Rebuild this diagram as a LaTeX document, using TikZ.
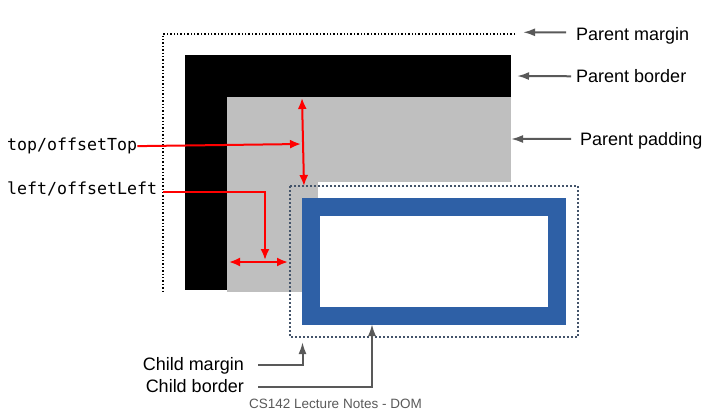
\documentclass[tikz,border=0pt]{standalone}
\usepackage{fontspec}
\setmainfont{Liberation Sans}
\newfontfamily\codefont{DejaVu Sans Mono}
\usetikzlibrary{arrows.meta, positioning}
\definecolor{childblue}{RGB}{46,96,166}
\definecolor{marginnavy}{RGB}{68,84,106}
\definecolor{padgray}{RGB}{191,191,191}
\definecolor{notegray}{RGB}{89,89,89}
\tikzstyle{gline} = [draw, notegray, line width=2pt, -{Latex[length=12pt,width=8pt]}]
\tikzstyle{rline} = [draw, red, line width=2pt, -{Latex[length=11pt,width=9pt]}]

\begin{document}
\begin{tikzpicture}[x=1pt,y=-1pt,
 lbl/.style={font=\fontsize{18}{20}\selectfont,inner sep=0,anchor=base west},
 code/.style={font=\codefont\fontsize{16.6}{18}\selectfont,inner sep=0,anchor=base west}]
 \useasboundingbox (0,0) rectangle (708,416);
 % parent
 \fill[black] (185,55) rectangle (511,290);
 \fill[padgray] (227,97) rectangle (511,292);
 \fill[white] (318,182) rectangle (511,292);
 \draw[black, line width=1.4pt, dash pattern=on 1.4pt off 2pt] (515,34) -- (163,34) -- (163,292);
 % child
 \draw[marginnavy, line width=2pt, dash pattern=on 2pt off 2pt] (290,186) rectangle (578,337);
 \draw[childblue, line width=18pt] (311,207) rectangle (557,315.5);

 \node[lbl] (pm) at (576,40.7) {Parent margin};
 \node[lbl] (pb) at (576,82.7) {Parent border};
 \node[lbl] (pp) at (580,145) {Parent padding};
 \node[code] (ot) at (7,150.7) {top/offsetTop};
 \node[code] (ol) at (7,194) {left/offsetLeft};
 \node[lbl, anchor=base east] (cm) at (244,370) {Child margin};
 \node[lbl, anchor=base east] (cb) at (244,392) {Child border};
 \node[font=\fontsize{13.5}{15}\selectfont, text=notegray, inner sep=0, anchor=base] (ft) at (335.5,408.7) {CS142 Lecture Notes - DOM};

 \coordinate (pmtip) at (523,32.3);
 \coordinate (pbtip) at (517,76);
 \coordinate (pptip) at (511,139);
 \coordinate (offtip) at (301,144);
 \coordinate (padtop) at (302,98);
 \coordinate (mtop) at (304,186);
 \coordinate (lefttip) at (265,260);
 \coordinate (padleft) at (229,262);
 \coordinate (mleft) at (288,262);
 \coordinate (cmtip) at (302.5,342);
 \coordinate (cbtip) at (372,324);

 \draw[gline] ([shift={(-10,-3.8)}]pm.west) -- (pmtip);
 \draw[gline] ([xshift=-5pt]pb.west) -- (pbtip);
 \draw[gline] ([shift={(-9,-1.4)}]pp.west) -- (pptip);
 \draw[rline] (ot.east) -- (offtip);
 \draw[rline, {Latex[length=11pt,width=9pt]}-{Latex[length=11pt,width=9pt]}] (padtop) -- (mtop);
 \draw[rline] ([shift={(6,4)}]ol.east) -| (lefttip);
 \draw[rline, {Latex[length=11pt,width=9pt]}-{Latex[length=11pt,width=9pt]}] (padleft) -- (mleft);
 \draw[gline] ([xshift=14pt]cm.east) -| (cmtip);
 \draw[gline] ([shift={(14,1.5)}]cb.east) -| (cbtip);
\end{tikzpicture}
\end{document}
